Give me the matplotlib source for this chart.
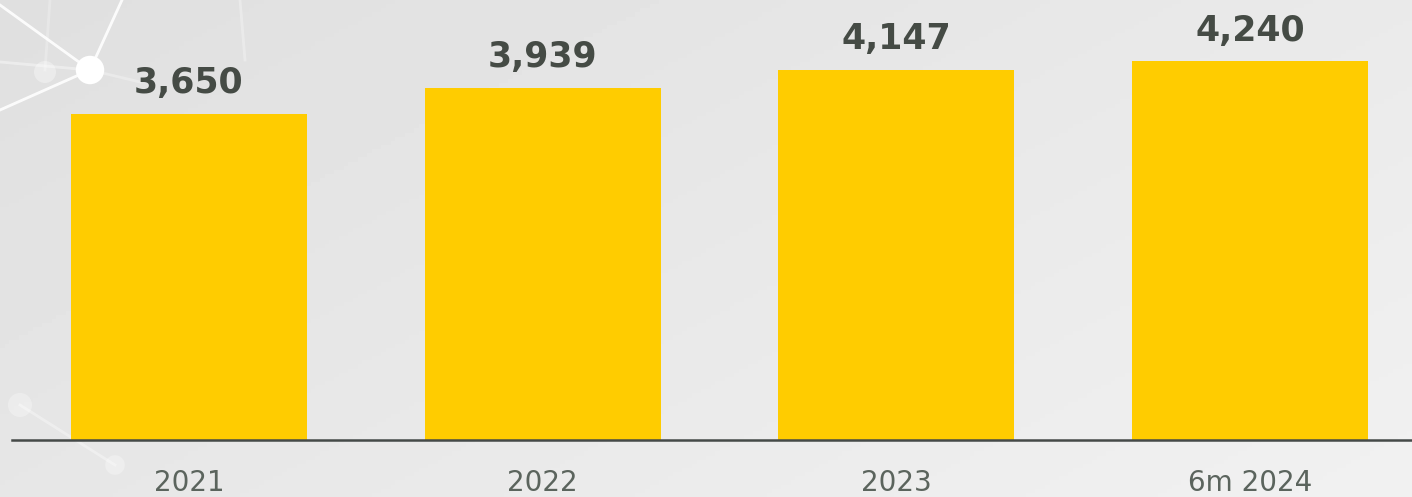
import matplotlib.pyplot as plt
import numpy as np

categories = ["2021", "2022", "2023", "6m 2024"]
values = [3650, 3939, 4147, 4240]
value_labels = ["3,650", "3,939", "4,147", "4,240"]

BAR_COLOR = "#FFCC00"
LABEL_COLOR = "#454b45"
TICK_COLOR = "#5b645d"

fig = plt.figure(figsize=(14.12, 4.97), dpi=100)

# background gradient + a few decorative network lines
bg = fig.add_axes([0, 0, 1, 1], zorder=0)
gx, gy = np.meshgrid(np.linspace(0, 1, 300), np.linspace(0, 1, 120))
grad = 0.875 + 0.07 * (0.6 * gx + 0.4 * gy)
bg.imshow(grad, cmap="gray", vmin=0, vmax=1, aspect="auto", extent=[0, 1412, 497, 0])
bg.set_xlim(0, 1412)
bg.set_ylim(497, 0)
for (x0, y0), (x1, y1), a in [
    ((90, 70), (0, 5), 0.9),
    ((90, 70), (122, 0), 0.9),
    ((90, 70), (0, 110), 0.9),
    ((90, 70), (0, 62), 0.4),
    ((90, 70), (140, 82), 0.3),
    ((45, 70), (50, 0), 0.25),
    ((20, 405), (115, 465), 0.35),
    ((240, 0), (245, 60), 0.3),
]:
    bg.plot([x0, x1], [y0, y1], color="white", lw=2, alpha=a)
bg.scatter([90, 45, 20, 115], [70, 72, 405, 465], s=[420, 250, 300, 200],
           color="white", alpha=[1.0, 0.35, 0.3, 0.3], zorder=3, lw=0)
bg.axis("off")

ax = fig.add_axes([12 / 1412, 57 / 497, 1400 / 1412, 440 / 497], zorder=1)
ax.patch.set_alpha(0)
x = np.arange(len(categories))
bars = ax.bar(x, values, width=0.667, color=BAR_COLOR, zorder=2)
ax.set_xlim(-0.5, 3.458)
ax.set_ylim(0, 4927)

for rect, lab in zip(bars, value_labels):
    ax.annotate(lab, (rect.get_x() + rect.get_width() / 2, rect.get_height()),
                xytext=(0, 15), textcoords="offset points", ha="center", va="baseline",
                fontsize=25, fontweight="bold", color=LABEL_COLOR, family="DejaVu Sans")

ax.set_xticks(x)
ax.set_xticklabels(categories, fontsize=20, color=TICK_COLOR, family="DejaVu Sans")
ax.tick_params(axis="x", length=0, pad=21)
ax.set_yticks([])
for side in ["top", "right", "left"]:
    ax.spines[side].set_visible(False)
ax.spines["bottom"].set_color("#454a48")
ax.spines["bottom"].set_linewidth(1.8)

fig.savefig("out.png", dpi=100)
